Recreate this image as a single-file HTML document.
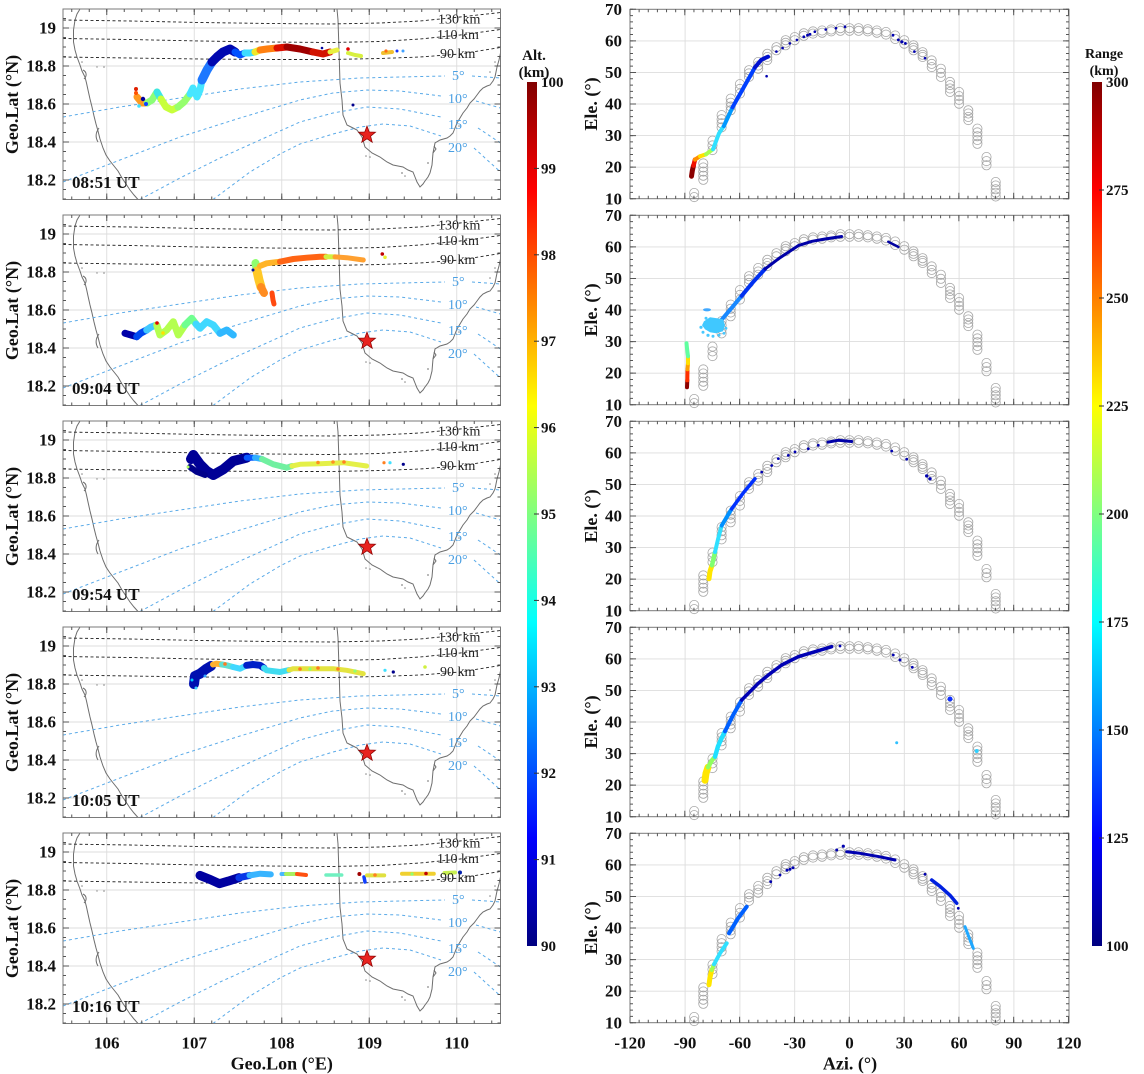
<!DOCTYPE html>
<html><head><meta charset="utf-8"><style>
html,body{margin:0;padding:0;background:#fff;}
svg{display:block;}
text{font-family:"Liberation Serif","DejaVu Serif",serif;fill:#111;}
.b{font-weight:bold;}
.tl{font-size:17px;font-weight:bold;}
.ax{font-size:18px;font-weight:bold;}
.ut{font-size:17px;font-weight:bold;}
.ck{font-size:14px;fill:#222;}
.cb{font-size:14px;fill:#4a9fe3;}
.cl{font-size:15px;font-weight:bold;}
</style></head><body>
<svg width="1144" height="1074" viewBox="0 0 1144 1074" xmlns="http://www.w3.org/2000/svg">
<defs>
<linearGradient id="jet" x1="0" y1="1" x2="0" y2="0">
<stop offset="0" stop-color="#000080"/>
<stop offset="0.125" stop-color="#0000ff"/>
<stop offset="0.375" stop-color="#00ffff"/>
<stop offset="0.5" stop-color="#80ff80"/>
<stop offset="0.625" stop-color="#ffff00"/>
<stop offset="0.875" stop-color="#ff0000"/>
<stop offset="1" stop-color="#800000"/>
</linearGradient>

<g id="Lback">
<g stroke="#dddddd" stroke-width="0.9">
<line x1="106.75" y1="9" x2="106.75" y2="199.5"/><line x1="194.25" y1="9" x2="194.25" y2="199.5"/><line x1="281.75" y1="9" x2="281.75" y2="199.5"/><line x1="369.25" y1="9" x2="369.25" y2="199.5"/><line x1="456.75" y1="9" x2="456.75" y2="199.5"/>
<line x1="63" y1="28" x2="500.5" y2="28"/><line x1="63" y1="66" x2="500.5" y2="66"/><line x1="63" y1="104" x2="500.5" y2="104"/><line x1="63" y1="142" x2="500.5" y2="142"/><line x1="63" y1="180" x2="500.5" y2="180"/>
</g>
<g fill="none" stroke="#6e6e6e" stroke-width="1">
<path d="M80,9 L77,14 L75,20 L73.5,30 L73.5,42 L75,50 L77,57 L80,65 L82,71 L85,77 L86.5,83 L88,90 L90,99 L92,107 L94,116 L96,124 L98,131 L100,139 L103,148 L106,155 L110,161 L114,166 L118,171 L122,178 L126,184 L130,190 L134,195 L138,199.5"/>
<path d="M99,128 C96,132 95,137 98,142"/>
<path d="M83,70 C87,72 87,76 84,79"/>
<path d="M337,9 L338,20 L339,50 L340,83 L342,100 L343,115 L347,125 L353,128 L357,130 L362,137 L365,147 L372,153 L380,157 L387,162 L393,165 L398,166 L403,167 L408,170 L413,172 L415,177 L417,182 L420,187 L423,184 L425,181 L428,177 L430,173 L432,165 L433,153 L435,143 L440,140 L447,138 L450,136 L453,133 L455,128 L457,123 L460,118 L463,113 L467,108 L470,103 L474,99 L477,95 L480,91 L483,88 L487,86 L490,85 L493,81 L495,77 L496,72 L497,67 L499,60 L500.5,53"/>
<path d="M433,153 l3,-4 l-2,-3"/>
</g>
<g fill="#888">
<circle cx="82" cy="62" r="0.8"/><circle cx="104" cy="67" r="0.8"/><circle cx="97" cy="67" r="0.7"/><circle cx="366" cy="156" r="0.8"/><circle cx="370" cy="157" r="0.8"/><circle cx="402" cy="173" r="0.9"/><circle cx="405" cy="176" r="0.8"/><circle cx="428" cy="163" r="0.9"/><circle cx="459" cy="126" r="0.8"/><circle cx="490" cy="72" r="0.8"/><circle cx="495" cy="62" r="0.8"/>
</g>
<g fill="none" stroke="#222" stroke-width="0.9" stroke-dasharray="3 2.5">
<path d="M63,20 L130,21 L200,22.5 L270,23.5 L330,24 L380,23 L420,21 L460,17 L500.5,12.5"/>
<path d="M63,38.5 L130,39.5 L200,41 L270,42 L330,42.5 L380,41.5 L420,39 L460,35 L500.5,29.5"/>
<path d="M63,57 L130,58 L200,59 L270,59.5 L330,59.5 L380,58.5 L420,57 L460,54 L500.5,47.5"/>
</g>
<g fill="none" stroke="#5aaae8" stroke-width="1" stroke-dasharray="3 3">
<path d="M63,117 L120,107 L180,98 L240,89 L300,82 L360,78 L400,77 L445,76 M472,76 L500.5,78"/>
<path d="M63,182 L120,160 L180,137 L240,118 L300,100 L333,93 L367,90 L400,91 L441,96 M476,101 L500.5,108"/>
<path d="M140,199.5 L180,178 L220,158 L260,140 L300,122 L333,113 L367,107 L400,109 L441,117 M478,128 L500.5,143"/>
<path d="M213,199.5 L250,172 L280,154 L300,144 L333,134 L360,127 L383,124 L410,126 L441,136 M474,148 L500.5,172"/>
</g>
</g>

<g id="Lfront">
<polygon points="367,126 369.23,131.93 375.56,132.22 370.61,136.17 372.29,142.28 367,138.8 361.71,142.28 363.39,136.17 358.44,132.22 364.77,131.93" fill="#e8231f" stroke="#8a0000" stroke-width="0.7"/>
<rect x="63" y="9" width="437.5" height="190.5" fill="none" stroke="#7a7a7a" stroke-width="1"/>
<g stroke="#555" fill="none">
<line x1="71.25" y1="198" x2="500.5" y2="198" stroke-width="3" stroke-dasharray="1 16.5"/>
<line x1="106.25" y1="196.5" x2="500.5" y2="196.5" stroke-width="6" stroke-dasharray="1 86.5"/>
<line x1="71.25" y1="10.5" x2="500.5" y2="10.5" stroke-width="3" stroke-dasharray="1 16.5"/>
<line x1="106.25" y1="12" x2="500.5" y2="12" stroke-width="6" stroke-dasharray="1 86.5"/>
<line x1="64.5" y1="18" x2="64.5" y2="199.5" stroke-width="3" stroke-dasharray="1 8.5"/>
<line x1="66" y1="27.5" x2="66" y2="199.5" stroke-width="6" stroke-dasharray="1 37"/>
<line x1="499" y1="18" x2="499" y2="199.5" stroke-width="3" stroke-dasharray="1 8.5"/>
<line x1="497.5" y1="27.5" x2="497.5" y2="199.5" stroke-width="6" stroke-dasharray="1 37"/>
</g>
</g>

<g id="Rback">
<g stroke="#dddddd" stroke-width="0.9">
<line x1="685.1" y1="0" x2="685.1" y2="189.4"/><line x1="739.9" y1="0" x2="739.9" y2="189.4"/><line x1="794.7" y1="0" x2="794.7" y2="189.4"/><line x1="849.5" y1="0" x2="849.5" y2="189.4"/><line x1="904.3" y1="0" x2="904.3" y2="189.4"/><line x1="959.1" y1="0" x2="959.1" y2="189.4"/><line x1="1013.9" y1="0" x2="1013.9" y2="189.4"/>
<line x1="630" y1="157.9" x2="1069" y2="157.9"/><line x1="630" y1="126.3" x2="1069" y2="126.3"/><line x1="630" y1="94.7" x2="1069" y2="94.7"/><line x1="630" y1="63.1" x2="1069" y2="63.1"/><line x1="630" y1="31.6" x2="1069" y2="31.6"/>
</g>
<g fill="none" stroke="#a6a6a6" stroke-width="0.8">
<circle cx="694.2" cy="187.8" r="4.6"/><circle cx="694.2" cy="183.7" r="4.6"/>
<circle cx="703.3" cy="170.5" r="4.6"/><circle cx="703.3" cy="166.4" r="4.6"/><circle cx="703.3" cy="162.3" r="4.6"/><circle cx="703.3" cy="158.2" r="4.6"/><circle cx="703.3" cy="154.1" r="4.6"/>
<circle cx="712.5" cy="140.8" r="4.6"/><circle cx="712.5" cy="136.1" r="4.6"/><circle cx="712.5" cy="131.3" r="4.6"/>
<circle cx="721.6" cy="118.1" r="4.6"/><circle cx="721.6" cy="114" r="4.6"/><circle cx="721.6" cy="109.9" r="4.6"/><circle cx="721.6" cy="105.8" r="4.6"/>
<circle cx="730.7" cy="101" r="4.6"/><circle cx="730.7" cy="97.2" r="4.6"/><circle cx="730.7" cy="93.4" r="4.6"/><circle cx="730.7" cy="89.3" r="4.6"/>
<circle cx="739.9" cy="84.3" r="4.6"/><circle cx="739.9" cy="79.6" r="4.6"/><circle cx="739.9" cy="74.8" r="4.6"/>
<circle cx="749" cy="67.6" r="4.6"/><circle cx="749" cy="64.1" r="4.6"/><circle cx="749" cy="60.9" r="4.6"/>
<circle cx="758.2" cy="59.4" r="4.6"/><circle cx="758.2" cy="56.2" r="4.6"/><circle cx="758.2" cy="52.7" r="4.6"/>
<circle cx="767.3" cy="50.8" r="4.6"/><circle cx="767.3" cy="47.7" r="4.6"/><circle cx="767.3" cy="44.5" r="4.6"/>
<circle cx="776.4" cy="41" r="4.6"/><circle cx="776.4" cy="37.9" r="4.6"/>
<circle cx="785.6" cy="36" r="4.6"/><circle cx="785.6" cy="33.5" r="4.6"/><circle cx="785.6" cy="30.9" r="4.6"/>
<circle cx="794.7" cy="30.9" r="4.6"/><circle cx="794.7" cy="27.8" r="4.6"/>
<circle cx="803.8" cy="26.5" r="4.6"/><circle cx="803.8" cy="24" r="4.6"/>
<circle cx="813" cy="24.3" r="4.6"/><circle cx="813" cy="22.1" r="4.6"/>
<circle cx="822.1" cy="23.4" r="4.6"/><circle cx="822.1" cy="21.2" r="4.6"/>
<circle cx="831.2" cy="22.1" r="4.6"/><circle cx="831.2" cy="20.2" r="4.6"/>
<circle cx="840.4" cy="21.5" r="4.6"/><circle cx="840.4" cy="18.9" r="4.6"/>
<circle cx="849.5" cy="21.5" r="4.6"/><circle cx="849.5" cy="18.9" r="4.6"/>
<circle cx="858.6" cy="21.5" r="4.6"/><circle cx="858.6" cy="18.9" r="4.6"/>
<circle cx="867.8" cy="22.1" r="4.6"/><circle cx="867.8" cy="19.9" r="4.6"/>
<circle cx="876.9" cy="23.4" r="4.6"/><circle cx="876.9" cy="21.2" r="4.6"/>
<circle cx="886" cy="25.3" r="4.6"/><circle cx="886" cy="22.7" r="4.6"/>
<circle cx="895.2" cy="29.7" r="4.6"/><circle cx="895.2" cy="26.2" r="4.6"/>
<circle cx="904.3" cy="34.4" r="4.6"/><circle cx="904.3" cy="30.9" r="4.6"/>
<circle cx="913.5" cy="41" r="4.6"/><circle cx="913.5" cy="38.5" r="4.6"/><circle cx="913.5" cy="36" r="4.6"/>
<circle cx="922.6" cy="47.7" r="4.6"/><circle cx="922.6" cy="45.5" r="4.6"/><circle cx="922.6" cy="42.9" r="4.6"/>
<circle cx="931.7" cy="57.8" r="4.6"/><circle cx="931.7" cy="54.6" r="4.6"/><circle cx="931.7" cy="51.1" r="4.6"/>
<circle cx="940.9" cy="67.6" r="4.6"/><circle cx="940.9" cy="63.5" r="4.6"/><circle cx="940.9" cy="59.4" r="4.6"/>
<circle cx="950" cy="82.7" r="4.6"/><circle cx="950" cy="79.2" r="4.6"/><circle cx="950" cy="75.8" r="4.6"/><circle cx="950" cy="72.6" r="4.6"/>
<circle cx="959.1" cy="94.4" r="4.6"/><circle cx="959.1" cy="90.6" r="4.6"/><circle cx="959.1" cy="86.8" r="4.6"/><circle cx="959.1" cy="82.7" r="4.6"/>
<circle cx="968.3" cy="110.8" r="4.6"/><circle cx="968.3" cy="107.7" r="4.6"/><circle cx="968.3" cy="104.2" r="4.6"/><circle cx="968.3" cy="101" r="4.6"/>
<circle cx="977.4" cy="134.5" r="4.6"/><circle cx="977.4" cy="130.7" r="4.6"/><circle cx="977.4" cy="126.9" r="4.6"/><circle cx="977.4" cy="123.1" r="4.6"/><circle cx="977.4" cy="119.3" r="4.6"/>
<circle cx="986.5" cy="156" r="4.6"/><circle cx="986.5" cy="151.8" r="4.6"/><circle cx="986.5" cy="147.7" r="4.6"/>
<circle cx="995.7" cy="187.2" r="4.6"/><circle cx="995.7" cy="183.4" r="4.6"/><circle cx="995.7" cy="180" r="4.6"/><circle cx="995.7" cy="176.2" r="4.6"/><circle cx="995.7" cy="172.7" r="4.6"/>
</g>
</g>

<g id="Rfront">
<rect x="630" y="0" width="439" height="189.4" fill="none" stroke="#7a7a7a" stroke-width="1"/>
<g stroke="#555" fill="none">
<line x1="629.5" y1="187.9" x2="1069.5" y2="187.9" stroke-width="3" stroke-dasharray="1 8.135"/>
<line x1="629.5" y1="186.4" x2="1069.5" y2="186.4" stroke-width="6" stroke-dasharray="1 53.81"/>
<line x1="629.5" y1="1.5" x2="1069.5" y2="1.5" stroke-width="3" stroke-dasharray="1 8.135"/>
<line x1="629.5" y1="3" x2="1069.5" y2="3" stroke-width="6" stroke-dasharray="1 53.81"/>
<line x1="631.5" y1="-0.5" x2="631.5" y2="190" stroke-width="3" stroke-dasharray="1 5.314"/>
<line x1="633" y1="-0.5" x2="633" y2="190" stroke-width="6" stroke-dasharray="1 30.57"/>
<line x1="1067.5" y1="-0.5" x2="1067.5" y2="190" stroke-width="3" stroke-dasharray="1 5.314"/>
<line x1="1066" y1="-0.5" x2="1066" y2="190" stroke-width="6" stroke-dasharray="1 30.57"/>
</g>
</g>
</defs>

<rect x="0" y="0" width="1144" height="1074" fill="#fff"/>

<!-- Panel 1 -->
<g>
<use href="#Lback"/>
<g fill="none" stroke-linecap="round" stroke-linejoin="round" stroke-width="7">
<polyline stroke="#ff9a20" points="137,97 142,103 147,103"/>
<polyline stroke="#8cff78" points="147,103 152,100 157,92"/>
<polyline stroke="#3ce6e6" points="157,92 161,99"/>
<polyline stroke="#c8ff3c" points="161,99 166,107 172,110 178,107"/>
<polyline stroke="#96ff6e" points="178,107 184,102 190,94"/>
<polyline stroke="#46e6ff" points="190,94 193,88 197,97 200,90 202,80"/>
<polyline stroke="#1e78ff" stroke-width="9" points="202,80 207,70 212,62"/>
<polyline stroke="#0008b0" stroke-width="9" points="212,62 217,57 223,52 230,49 235,52"/>
<polyline stroke="#0050ff" points="235,52 240,55 245,53"/>
<polyline stroke="#3cdcff" points="245,53 250,53 255,52"/>
<polyline stroke="#f0e828" points="255,52 260,50"/>
<polyline stroke="#ff8010" points="260,50 267,49 277,48"/>
<polyline stroke="#dc1000" points="277,48 287,47"/>
<polyline stroke="#a00000" points="287,47 300,49 313,52"/>
<polyline stroke="#d21400" points="313,52 323,54 330,52"/>
<polyline stroke="#e8f040" stroke-width="5" points="330,52 337,50"/>
<polyline stroke="#d8f040" stroke-width="4" points="348,53 355,55 361,56"/>
<polyline stroke="#f0c030" stroke-width="4" points="383,53 392,52"/>
</g>
<circle cx="136" cy="89" r="2" fill="#e02000"/><circle cx="136" cy="93" r="2" fill="#ff5000"/><circle cx="143" cy="99" r="2.2" fill="#0000a0"/><circle cx="146" cy="104" r="2" fill="#1040ff"/><circle cx="139" cy="106" r="1.8" fill="#40e0ff"/>
<circle cx="348" cy="49" r="1.8" fill="#e00000"/><circle cx="322" cy="48" r="1.3" fill="#0000a0"/><circle cx="353" cy="105" r="1.5" fill="#00008c"/><circle cx="397" cy="51" r="1.5" fill="#1030ff"/><circle cx="403" cy="51" r="1.5" fill="#40a0ff"/><circle cx="386" cy="51" r="1.6" fill="#ff6a10"/>
<text class="ck" x="438" y="23.5">130 km</text><text class="ck" x="437" y="39">110 km</text><text class="ck" x="440" y="58">90 km</text>
<text class="cb" x="452" y="80">5°</text><text class="cb" x="448" y="103">10°</text><text class="cb" x="448" y="129">15°</text><text class="cb" x="448" y="152">20°</text>
<use href="#Lfront"/>
<text class="ut" x="72" y="188">08:51 UT</text>
</g>

<!-- Panel 2 -->
<g transform="translate(0,206)">
<use href="#Lback"/>
<g fill="none" stroke-linecap="round" stroke-linejoin="round" stroke-width="7">
<polyline stroke="#0000a8" points="125,127.3 131,129 136.7,130.7"/>
<polyline stroke="#0048f0" points="136.7,130.7 141,127 146.7,124"/>
<polyline stroke="#40c8ff" points="146.7,124 151,121 156.7,119"/>
<polyline stroke="#b4ff50" points="156.7,119 160,129 166.7,124 173.3,115.7 178.3,129 185,119"/>
<polyline stroke="#70ff90" points="185,119 191.7,112.3 196,118"/>
<polyline stroke="#40d8ff" points="196,118 200,122.3 206.7,115.7 213.3,119 220,127.3"/>
<polyline stroke="#30b8ff" points="220,127.3 226.7,124 233.3,129"/>
<polyline stroke="#90ff70" stroke-width="8" points="255.5,57 257,65"/>
<polyline stroke="#ffc828" stroke-width="9" points="257,65 259,74 261,81"/>
<polyline stroke="#ff8c20" stroke-width="8" points="261,81 264,87"/>
<polyline stroke="#ff4a10" stroke-width="5" points="272,87 273,94 274,98"/>
<polyline stroke="#ffb428" stroke-width="6" points="260,60 266.7,57.3 280,55.7"/>
<polyline stroke="#ff6414" stroke-width="6" points="280,55.7 293.3,53 306.7,51.7 320,50.7 326,50.7"/>
<polyline stroke="#d0f040" stroke-width="5" points="326,50.7 335,50.9"/>
<polyline stroke="#ffa030" stroke-width="5" points="335,50.9 346.7,51.7 363.3,54"/>
</g>
<circle cx="157" cy="117" r="1.8" fill="#e00000"/><circle cx="163" cy="127" r="1.8" fill="#ffe000"/><circle cx="253" cy="64" r="1.5" fill="#0010a0"/>
<circle cx="382.3" cy="48" r="1.8" fill="#c00000"/><circle cx="385" cy="51.3" r="1.8" fill="#e8f030"/>
<text class="ck" x="438" y="23.5">130 km</text><text class="ck" x="437" y="39">110 km</text><text class="ck" x="440" y="58">90 km</text>
<text class="cb" x="452" y="80">5°</text><text class="cb" x="448" y="103">10°</text><text class="cb" x="448" y="129">15°</text><text class="cb" x="448" y="152">20°</text>
<use href="#Lfront"/>
<text class="ut" x="72" y="188">09:04 UT</text>
</g>

<!-- Panel 3 -->
<g transform="translate(0,412)">
<use href="#Lback"/>
<g fill="none" stroke-linecap="round" stroke-linejoin="round">
<polyline stroke="#000096" stroke-width="10" points="191,47 193.3,43 200,52.3 206.7,59 213.3,63 223.3,57.3 233.3,49 246.7,45.7"/>
<polyline stroke="#00008a" stroke-width="6" points="190,55 197,60 205,63"/>
<polyline stroke="#0858ff" stroke-width="6" points="246.7,45.7 255,45.7"/>
<polyline stroke="#30b0ff" stroke-width="6" points="255,45.7 262,47"/>
<polyline stroke="#70f0a0" stroke-width="6" points="262,47 273.3,52.3 286.7,55.7 292,54"/>
<polyline stroke="#e4f048" stroke-width="5" points="292,54 300,52.3 320,51.7 343.3,50.7 366.7,54"/>
</g>
<circle cx="318" cy="50.5" r="1.8" fill="#ff9020"/><circle cx="333" cy="50" r="1.8" fill="#ff9020"/><circle cx="344" cy="50" r="1.8" fill="#ff8020"/>
<circle cx="384" cy="50.7" r="1.6" fill="#ff8020"/><circle cx="390" cy="50.7" r="1.6" fill="#40e0ff"/><circle cx="403.3" cy="52.3" r="1.6" fill="#00008c"/><circle cx="188" cy="55" r="1.5" fill="#b0ff60"/>
<text class="ck" x="438" y="23.5">130 km</text><text class="ck" x="437" y="39">110 km</text><text class="ck" x="440" y="58">90 km</text>
<text class="cb" x="452" y="80">5°</text><text class="cb" x="448" y="103">10°</text><text class="cb" x="448" y="129">15°</text><text class="cb" x="448" y="152">20°</text>
<use href="#Lfront"/>
<text class="ut" x="72" y="188">09:54 UT</text>
</g>

<!-- Panel 4 -->
<g transform="translate(0,618)">
<use href="#Lback"/>
<g fill="none" stroke-linecap="round" stroke-linejoin="round">
<polyline stroke="#0010b0" stroke-width="10" points="194,66 195,58 200,55.7 206,51 211,48"/>
<polyline stroke="#ffb030" stroke-width="6" points="213,46.5 216.7,45.7 222,46.5"/>
<polyline stroke="#60e0d0" stroke-width="6" points="222,46.5 226.7,47.3 233,49"/>
<polyline stroke="#40d8ff" stroke-width="6" points="233,49 240,50.7 246.7,47.3"/>
<polyline stroke="#0020c8" stroke-width="7" points="246.7,47.3 253,46.5 260,47.3 264,50"/>
<polyline stroke="#40dcf0" stroke-width="6" points="264,50 266.7,52.3 280,54 289,52"/>
<polyline stroke="#e4e440" stroke-width="5" points="289,52 293.3,50.7 313.3,50.7 333.3,50.7 346.7,52.3 363.3,55.7"/>
</g>
<circle cx="196" cy="70" r="1.5" fill="#40d0ff"/><circle cx="192" cy="62" r="1.5" fill="#00c8ff"/><circle cx="205" cy="58" r="1.5" fill="#30a0ff"/>
<circle cx="300" cy="51" r="1.8" fill="#ff7a20"/><circle cx="318" cy="50" r="1.8" fill="#ff7a20"/><circle cx="338" cy="51" r="1.8" fill="#ff7a20"/><circle cx="225" cy="46" r="1.8" fill="#ff7a20"/>
<circle cx="310" cy="51" r="1.6" fill="#90ff70"/><circle cx="355" cy="53" r="1.6" fill="#90ff70"/>
<circle cx="385" cy="52.3" r="1.6" fill="#40e0ff"/><circle cx="393.3" cy="54" r="1.6" fill="#00008c"/><circle cx="425" cy="49" r="1.8" fill="#d0f040"/>
<text class="ck" x="438" y="23.5">130 km</text><text class="ck" x="437" y="39">110 km</text><text class="ck" x="440" y="58">90 km</text>
<text class="cb" x="452" y="80">5°</text><text class="cb" x="448" y="103">10°</text><text class="cb" x="448" y="129">15°</text><text class="cb" x="448" y="152">20°</text>
<use href="#Lfront"/>
<text class="ut" x="72" y="188">10:05 UT</text>
</g>

<!-- Panel 5 -->
<g transform="translate(0,824)">
<use href="#Lback"/>
<g fill="none" stroke-linecap="round" stroke-linejoin="round">
<polyline stroke="#0000a0" stroke-width="9" points="200,51.4 210.6,55.7 219.4,59.7 228.3,57.1 238.9,53.7"/>
<polyline stroke="#0838e8" stroke-width="7" points="238.9,53.7 249.5,51.4"/>
<polyline stroke="#38b4ff" stroke-width="6" points="249.5,51.4 260.2,49.7 270.8,50.4"/>
<polyline stroke="#48b8ff" stroke-width="4" points="281.5,50 285,50"/>
<polyline stroke="#a8f060" stroke-width="4" points="286,50 296,50"/>
<polyline stroke="#ff5010" stroke-width="4" points="297,50 306,51"/>
<polyline stroke="#70f0c0" stroke-width="3.5" points="326,51 341.7,51"/>
<polyline stroke="#1040ff" stroke-width="3.5" points="364,53 365,58"/>
<polyline stroke="#e0e040" stroke-width="4" points="367,51.4 384.2,51.4"/>
<polyline stroke="#f0d030" stroke-width="4" points="402,49.7 433.8,49.7"/>
<polyline stroke="#c8f050" stroke-width="4" points="444.4,49 455,48.5"/>
</g>
<circle cx="359.4" cy="50" r="2" fill="#a00000"/><circle cx="375" cy="51" r="1.8" fill="#ff8020"/><circle cx="426" cy="49.5" r="1.8" fill="#c00000"/><circle cx="412" cy="50" r="1.6" fill="#90ff70"/><circle cx="460" cy="48.5" r="2" fill="#0020b0"/>
<text class="ck" x="438" y="23.5">130 km</text><text class="ck" x="437" y="39">110 km</text><text class="ck" x="440" y="58">90 km</text>
<text class="cb" x="452" y="80">5°</text><text class="cb" x="448" y="103">10°</text><text class="cb" x="448" y="129">15°</text><text class="cb" x="448" y="152">20°</text>
<use href="#Lfront"/>
<text class="ut" x="72" y="188">10:16 UT</text>
</g>

<g class="tl" text-anchor="end">
<text x="56" y="33.5">19</text><text x="56" y="71.5">18.8</text><text x="56" y="109.5">18.6</text><text x="56" y="147.5">18.4</text><text x="56" y="185.5">18.2</text>
<text x="56" y="239.5">19</text><text x="56" y="277.5">18.8</text><text x="56" y="315.5">18.6</text><text x="56" y="353.5">18.4</text><text x="56" y="391.5">18.2</text>
<text x="56" y="445.5">19</text><text x="56" y="483.5">18.8</text><text x="56" y="521.5">18.6</text><text x="56" y="559.5">18.4</text><text x="56" y="597.5">18.2</text>
<text x="56" y="651.5">19</text><text x="56" y="689.5">18.8</text><text x="56" y="727.5">18.6</text><text x="56" y="765.5">18.4</text><text x="56" y="803.5">18.2</text>
<text x="56" y="857.5">19</text><text x="56" y="895.5">18.8</text><text x="56" y="933.5">18.6</text><text x="56" y="971.5">18.4</text><text x="56" y="1009.5">18.2</text>
</g>
<g class="ax" text-anchor="middle">
<text transform="translate(18,104.5) rotate(-90)">Geo.Lat (°N)</text>
<text transform="translate(18,310.5) rotate(-90)">Geo.Lat (°N)</text>
<text transform="translate(18,516.5) rotate(-90)">Geo.Lat (°N)</text>
<text transform="translate(18,722.5) rotate(-90)">Geo.Lat (°N)</text>
<text transform="translate(18,928.5) rotate(-90)">Geo.Lat (°N)</text>
</g>
<g class="tl" text-anchor="middle">
<text x="106.75" y="1048.5">106</text><text x="194.25" y="1048.5">107</text><text x="281.75" y="1048.5">108</text><text x="369.25" y="1048.5">109</text><text x="456.75" y="1048.5">110</text>
</g>
<text class="ax" x="281.75" y="1069.5" text-anchor="middle">Geo.Lon (°E)</text>

<rect x="527" y="82" width="10" height="864" fill="url(#jet)"/>
<g stroke="#333" stroke-width="1">
<line x1="534" y1="168.4" x2="539" y2="168.4"/><line x1="534" y1="254.8" x2="539" y2="254.8"/><line x1="534" y1="341.2" x2="539" y2="341.2"/><line x1="534" y1="427.6" x2="539" y2="427.6"/><line x1="534" y1="514" x2="539" y2="514"/><line x1="534" y1="600.4" x2="539" y2="600.4"/><line x1="534" y1="686.8" x2="539" y2="686.8"/><line x1="534" y1="773.2" x2="539" y2="773.2"/><line x1="534" y1="859.6" x2="539" y2="859.6"/>
</g>
<g class="cl">
<text x="541" y="87">100</text><text x="541" y="173.4">99</text><text x="541" y="259.8">98</text><text x="541" y="346.2">97</text><text x="541" y="432.6">96</text><text x="541" y="519">95</text><text x="541" y="605.4">94</text><text x="541" y="691.8">93</text><text x="541" y="778.2">92</text><text x="541" y="864.6">91</text><text x="541" y="951">90</text>
</g>
<text class="cl" x="534" y="60" text-anchor="middle">Alt.</text>
<text class="cl" x="534" y="77" text-anchor="middle">(km)</text>

<!-- R1 -->
<g transform="translate(0,9.3)">
<use href="#Rback"/>
<g fill="none" stroke-linecap="round" stroke-linejoin="round">
<polyline stroke="#8b0000" stroke-width="5" points="691.5,167 692.4,161 693.5,156.3"/>
<polyline stroke="#f01000" stroke-width="4.5" points="693.5,156.3 695,150.3"/>
<polyline stroke="#ff9000" stroke-width="4" points="695,150.3 700,147"/>
<polyline stroke="#ffe000" stroke-width="4" points="700,147 706,145"/>
<polyline stroke="#a8ff50" stroke-width="4" points="706,145 713,140"/>
<polyline stroke="#30e0ff" stroke-width="4" points="713,140 716,132 719,124 723.8,116.8"/>
<polyline stroke="#0098ff" stroke-width="4" points="723.8,116.8 732.6,97.9"/>
<polyline stroke="#0040ff" stroke-width="4" points="732.6,97.9 745,75.8 755,58"/>
<polyline stroke="#0010d0" stroke-width="4" points="755,58 761.3,50.5 768,47.4"/>
</g>
<g fill="#0000b0">
<circle cx="766.6" cy="66.9" r="1.3"/><circle cx="776.4" cy="42.3" r="1.3"/><circle cx="782.6" cy="38.8" r="1.3"/><circle cx="789.8" cy="34.1" r="1.3"/><circle cx="796.9" cy="30.6" r="1.3"/><circle cx="803.8" cy="27.5" r="1.4"/><circle cx="807.5" cy="25.9" r="1.4"/><circle cx="810" cy="25" r="1.4"/><circle cx="814.8" cy="22.4" r="1.3"/><circle cx="825.7" cy="20.2" r="1.3"/><circle cx="836" cy="18.9" r="1.3"/><circle cx="845" cy="17.4" r="1.3"/>
<circle cx="893" cy="25.9" r="1.4"/><circle cx="898.3" cy="30.6" r="1.4"/><circle cx="901.9" cy="32.5" r="1.6"/><circle cx="905.4" cy="34.1" r="1.4"/><circle cx="914.4" cy="42.3" r="1.3"/><circle cx="925" cy="48.9" r="1.3"/>
</g>
<use href="#Rfront"/>
</g>

<!-- R2 -->
<g transform="translate(0,215.3)">
<use href="#Rback"/>
<g fill="none" stroke-linecap="round" stroke-linejoin="round" stroke-width="4">
<polyline stroke="#8b0000" points="687,172 687.3,165"/>
<polyline stroke="#ff3000" points="687.3,165 687.5,154"/>
<polyline stroke="#ffa000" points="687.5,154 688,148"/>
<polyline stroke="#ffe000" points="688,148 688,141"/>
<polyline stroke="#60ffa0" points="688,141 687,133 686.5,128"/>
<polyline stroke="#1888ff" points="722,104 733,91 741.7,80.5"/>
<polyline stroke="#0030f0" points="741.7,80.5 752,68 765,53.7"/>
<polyline stroke="#0000a8" stroke-width="3" points="765,53.7 778.3,43.6 798.3,30.3 812,26 825,23.7 841.7,21.2"/>
<polyline stroke="#0000a0" stroke-width="2.5" points="888.3,26.5 898.3,31.6"/>
</g>
<polygon points="704,106 710,102 717,103 723,104 725,110 723,116 716,118 710,117 705,114 702,110" fill="#40c8ff"/>
<g fill="#48c8ff">
<circle cx="701" cy="112" r="1.6"/><circle cx="703" cy="117" r="1.5"/><circle cx="708" cy="120" r="1.6"/><circle cx="713" cy="121" r="1.5"/><circle cx="719" cy="120" r="1.5"/><circle cx="724" cy="118" r="1.4"/><circle cx="726" cy="113" r="1.4"/><circle cx="706" cy="103" r="1.5"/>
</g>
<ellipse cx="707" cy="94.5" rx="4" ry="1.6" fill="#40a8ff"/>
<use href="#Rfront"/>
</g>

<!-- R3 -->
<g transform="translate(0,421.3)">
<use href="#Rback"/>
<g fill="none" stroke-linecap="round" stroke-linejoin="round">
<polyline stroke="#ffe600" stroke-width="5" points="709,157.5 710,150 712,144"/>
<polyline stroke="#80ff70" stroke-width="4.5" points="712,144 715,130.8"/>
<polyline stroke="#30e0ff" stroke-width="4" points="715,130.8 718,118 721.7,104.2"/>
<polyline stroke="#0090ff" stroke-width="4" points="721.7,104.2 731.7,87.5"/>
<polyline stroke="#0030ff" stroke-width="3.5" points="731.7,87.5 743,72 755,57.5"/>
<polyline stroke="#0000a8" stroke-width="3" points="828,20.8 838,19 851.7,20.2"/>
</g>
<g fill="#0000b0">
<circle cx="761.7" cy="50.8" r="1.4"/><circle cx="771.7" cy="44.2" r="1.4"/><circle cx="778.3" cy="37.3" r="1.4"/><circle cx="788.3" cy="34.1" r="1.4"/><circle cx="795" cy="30.6" r="1.4"/><circle cx="808.3" cy="27.5" r="1.4"/><circle cx="818.3" cy="24" r="1.4"/>
<circle cx="891.7" cy="29.7" r="1.4"/><circle cx="906.7" cy="37.9" r="1.4"/><circle cx="926.7" cy="54.6" r="1.7"/><circle cx="930" cy="57.5" r="1.7"/>
</g>
<use href="#Rfront"/>
</g>

<!-- R4 -->
<g transform="translate(0,627.3)">
<use href="#Rback"/>
<g fill="none" stroke-linecap="round" stroke-linejoin="round">
<polyline stroke="#ffe600" stroke-width="7" points="705,153 706,146 708,140"/>
<polyline stroke="#90ff60" stroke-width="4.5" points="708,140 712,133 715,129.4"/>
<polyline stroke="#20e0ff" stroke-width="4.5" points="715,129.4 718,119 722,110 725,104"/>
<polyline stroke="#0060ff" stroke-width="4" points="725,104 733,88 741.7,72.7"/>
<polyline stroke="#0000b4" stroke-width="3.5" points="741.7,72.7 758.3,56 768.3,47.7 781.7,37.7 798.3,29.4 815,24.4 831.7,19.4"/>
</g>
<circle cx="840" cy="18.7" r="1.4" fill="#0000b0"/><circle cx="893.3" cy="27.7" r="1.4" fill="#0000b0"/><circle cx="900" cy="32.7" r="1.5" fill="#0000b0"/><circle cx="912.3" cy="40" r="1.4" fill="#0000b0"/>
<circle cx="950" cy="71.7" r="2.5" fill="#1030ff"/><circle cx="896.7" cy="115.4" r="1.5" fill="#30c0ff"/><circle cx="976.7" cy="123.7" r="2" fill="#30d0ff"/>
<use href="#Rfront"/>
</g>

<!-- R5 -->
<g transform="translate(0,833.3)">
<use href="#Rback"/>
<g fill="none" stroke-linecap="round" stroke-linejoin="round">
<polyline stroke="#ffe600" stroke-width="5" points="709,151.5 710,144 711.7,136.7"/>
<polyline stroke="#a0ff50" stroke-width="4" points="711.7,136.7 714,131"/>
<polyline stroke="#30e0ff" stroke-width="4" points="714,131 720,120 726.7,110"/>
<polyline stroke="#0060ff" stroke-width="4" points="729,100 738,85 746.7,73.4"/>
<polyline stroke="#0000b0" stroke-width="3" points="846.7,18.4 860,20 880,23.5 895,26.7"/>
<polyline stroke="#0020e0" stroke-width="3.5" points="931.7,46.7 940,53 950,62 956.7,70"/>
<polyline stroke="#20a8ff" stroke-width="3" points="965,93.4 969,104 973.3,115"/>
</g>
<g fill="#0000b0">
<circle cx="770.7" cy="48.4" r="1.4"/><circle cx="780" cy="41.7" r="1.4"/><circle cx="787" cy="37" r="1.5"/><circle cx="790" cy="36" r="1.5"/><circle cx="793" cy="34.5" r="1.5"/>
<circle cx="836.7" cy="16.7" r="1.5"/><circle cx="843.3" cy="12.9" r="1.6"/><circle cx="925" cy="41" r="1.4"/><circle cx="958.3" cy="75" r="1.4"/>
</g>
<use href="#Rfront"/>
</g>

<g class="tl" text-anchor="end">
<text x="622" y="14.8">70</text><text x="622" y="46.4">60</text><text x="622" y="78">50</text><text x="622" y="109.5">40</text><text x="622" y="141.1">30</text><text x="622" y="172.7">20</text><text x="622" y="204.3">10</text>
<text x="622" y="220.8">70</text><text x="622" y="252.4">60</text><text x="622" y="284">50</text><text x="622" y="315.5">40</text><text x="622" y="347.1">30</text><text x="622" y="378.7">20</text><text x="622" y="410.3">10</text>
<text x="622" y="426.8">70</text><text x="622" y="458.4">60</text><text x="622" y="490">50</text><text x="622" y="521.5">40</text><text x="622" y="553.1">30</text><text x="622" y="584.7">20</text><text x="622" y="616.3">10</text>
<text x="622" y="632.8">70</text><text x="622" y="664.4">60</text><text x="622" y="696">50</text><text x="622" y="727.5">40</text><text x="622" y="759.1">30</text><text x="622" y="790.7">20</text><text x="622" y="822.3">10</text>
<text x="622" y="838.8">70</text><text x="622" y="870.4">60</text><text x="622" y="902">50</text><text x="622" y="933.5">40</text><text x="622" y="965.1">30</text><text x="622" y="996.7">20</text><text x="622" y="1028.3">10</text>
</g>
<g class="ax" text-anchor="middle">
<text transform="translate(597,104) rotate(-90)">Ele. (°)</text>
<text transform="translate(597,310) rotate(-90)">Ele. (°)</text>
<text transform="translate(597,516) rotate(-90)">Ele. (°)</text>
<text transform="translate(597,722) rotate(-90)">Ele. (°)</text>
<text transform="translate(597,928) rotate(-90)">Ele. (°)</text>
</g>
<g class="tl" text-anchor="middle">
<text x="630" y="1048.5">-120</text><text x="685.1" y="1048.5">-90</text><text x="739.9" y="1048.5">-60</text><text x="794.7" y="1048.5">-30</text><text x="849.5" y="1048.5">0</text><text x="904.3" y="1048.5">30</text><text x="959.1" y="1048.5">60</text><text x="1013.9" y="1048.5">90</text><text x="1068.7" y="1048.5">120</text>
</g>
<text class="ax" x="850" y="1069.5" text-anchor="middle">Azi. (°)</text>

<rect x="1092" y="82" width="10" height="864" fill="url(#jet)"/>
<g stroke="#333" stroke-width="1">
<line x1="1099" y1="190" x2="1104" y2="190"/><line x1="1099" y1="298" x2="1104" y2="298"/><line x1="1099" y1="406" x2="1104" y2="406"/><line x1="1099" y1="514" x2="1104" y2="514"/><line x1="1099" y1="622" x2="1104" y2="622"/><line x1="1099" y1="730" x2="1104" y2="730"/><line x1="1099" y1="838" x2="1104" y2="838"/>
</g>
<g class="cl">
<text x="1106" y="87">300</text><text x="1106" y="195">275</text><text x="1106" y="303">250</text><text x="1106" y="411">225</text><text x="1106" y="519">200</text><text x="1106" y="627">175</text><text x="1106" y="735">150</text><text x="1106" y="843">125</text><text x="1106" y="951">100</text>
</g>
<text class="b" x="1104" y="58" text-anchor="middle" style="font-size:14px">Range</text>
<text class="b" x="1104" y="75" text-anchor="middle" style="font-size:14px">(km)</text>
</svg>
</body></html>
